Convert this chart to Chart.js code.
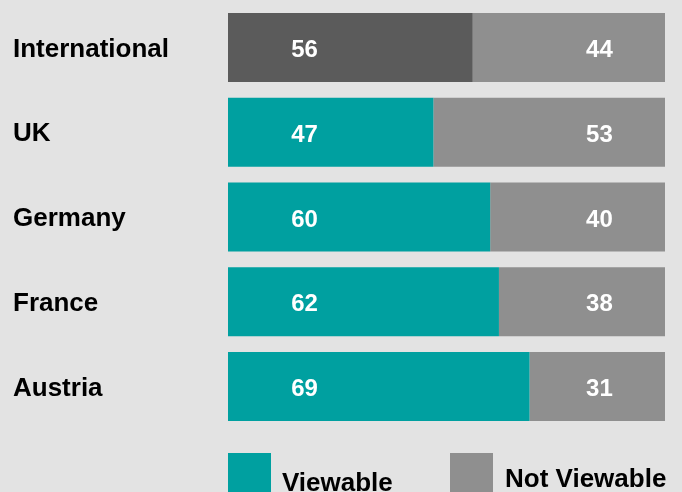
<!DOCTYPE html>
<html>
<head>
<meta charset="utf-8">
<script src="https://cdn.jsdelivr.net/npm/chart.js@4/dist/chart.umd.min.js"></script>
<style>
  html, body {
    margin: 0;
    padding: 0;
    background: #e3e3e3;
  }
  #chartWrap {
    width: 682px;
    height: 492px;
  }
</style>
</head>
<body>
<div id="chartWrap"><canvas id="viewChart"></canvas></div>
<script>
// Data for the chart
const countries = ["International", "UK", "Germany", "France", "Austria"];
const viewable = [56, 47, 60, 62, 69];
const notViewable = [44, 53, 40, 38, 31];
const seriesNames = ["Viewable", "Not Viewable"];

const fontFamily = '"Liberation Sans", Arial, Helvetica, sans-serif';
const tealColor = "#00a0a0";
const darkGrey = "#5b5b5b";
const lightGrey = "#8f8f8f";

// first bar (International) is drawn in dark grey
const viewableColors = countries.map((c, i) => (i === 0 ? darkGrey : tealColor));

// Values written inside the bars, at fixed spots along the axis
const valueLabels = {
  id: "valueLabels",
  afterDatasetsDraw(chart) {
    const ctx = chart.ctx;
    const xScale = chart.scales.x;
    const anchors = [17.5, 85];
    ctx.save();
    ctx.fillStyle = "#ffffff";
    ctx.font = "bold 24px " + fontFamily;
    ctx.textAlign = "center";
    ctx.textBaseline = "middle";
    chart.data.datasets.forEach((ds, di) => {
      const meta = chart.getDatasetMeta(di);
      meta.data.forEach((bar, i) => {
        ctx.fillText(String(ds.data[i]), xScale.getPixelForValue(anchors[di]), bar.y + 3);
      });
    });
    ctx.restore();
  },
};

// Legend at the bottom, lined up with the bars
const squareLegend = {
  id: "squareLegend",
  afterDraw(chart) {
    const ctx = chart.ctx;
    const left = chart.chartArea.left;
    const items = [
      { text: seriesNames[0], color: tealColor, x: left, textX: left + 54, baseline: 491 },
      { text: seriesNames[1], color: lightGrey, x: left + 222, textX: left + 277, baseline: 487 },
    ];
    ctx.save();
    ctx.font = "bold 26px " + fontFamily;
    ctx.textBaseline = "alphabetic";
    ctx.textAlign = "left";
    items.forEach((item) => {
      ctx.fillStyle = item.color;
      ctx.fillRect(item.x, 453, 43, 43);
      ctx.fillStyle = "#000000";
      ctx.fillText(item.text, item.textX, item.baseline);
    });
    ctx.restore();
  },
};

function buatChart() {
  const ctx = document.getElementById("viewChart").getContext("2d");
  new Chart(ctx, {
    type: "bar",
    data: {
      labels: countries,
      datasets: [
        {
          label: seriesNames[0],
          data: viewable,
          backgroundColor: viewableColors,
          borderWidth: 0,
          categoryPercentage: 1,
          barPercentage: 0.814,
        },
        {
          label: seriesNames[1],
          data: notViewable,
          backgroundColor: lightGrey,
          borderWidth: 0,
          categoryPercentage: 1,
          barPercentage: 0.814,
        },
      ],
    },
    options: {
      indexAxis: "y",
      responsive: true,
      maintainAspectRatio: false,
      animation: false,
      layout: {
        padding: { left: 13, right: 17, top: 5, bottom: 63 },
      },
      plugins: {
        legend: { display: false },
        tooltip: { enabled: false },
      },
      scales: {
        x: {
          stacked: true,
          min: 0,
          max: 100,
          display: false,
        },
        y: {
          stacked: true,
          grid: { display: false, drawTicks: false },
          border: { display: false },
          afterFit(scale) {
            // fixed label column, no extra room for the label heights
            scale.width = 215;
            scale.paddingTop = 0;
            scale.paddingBottom = 0;
          },
          ticks: {
            crossAlign: "far",
            color: "#000000",
            padding: 0,
            labelOffset: 2,
            font: {
              family: fontFamily,
              size: 26,
              weight: "bold",
            },
          },
        },
      },
    },
    plugins: [valueLabels, squareLegend],
  });
}

document.addEventListener("DOMContentLoaded", function () {
  buatChart();
});
</script>
</body>
</html>
